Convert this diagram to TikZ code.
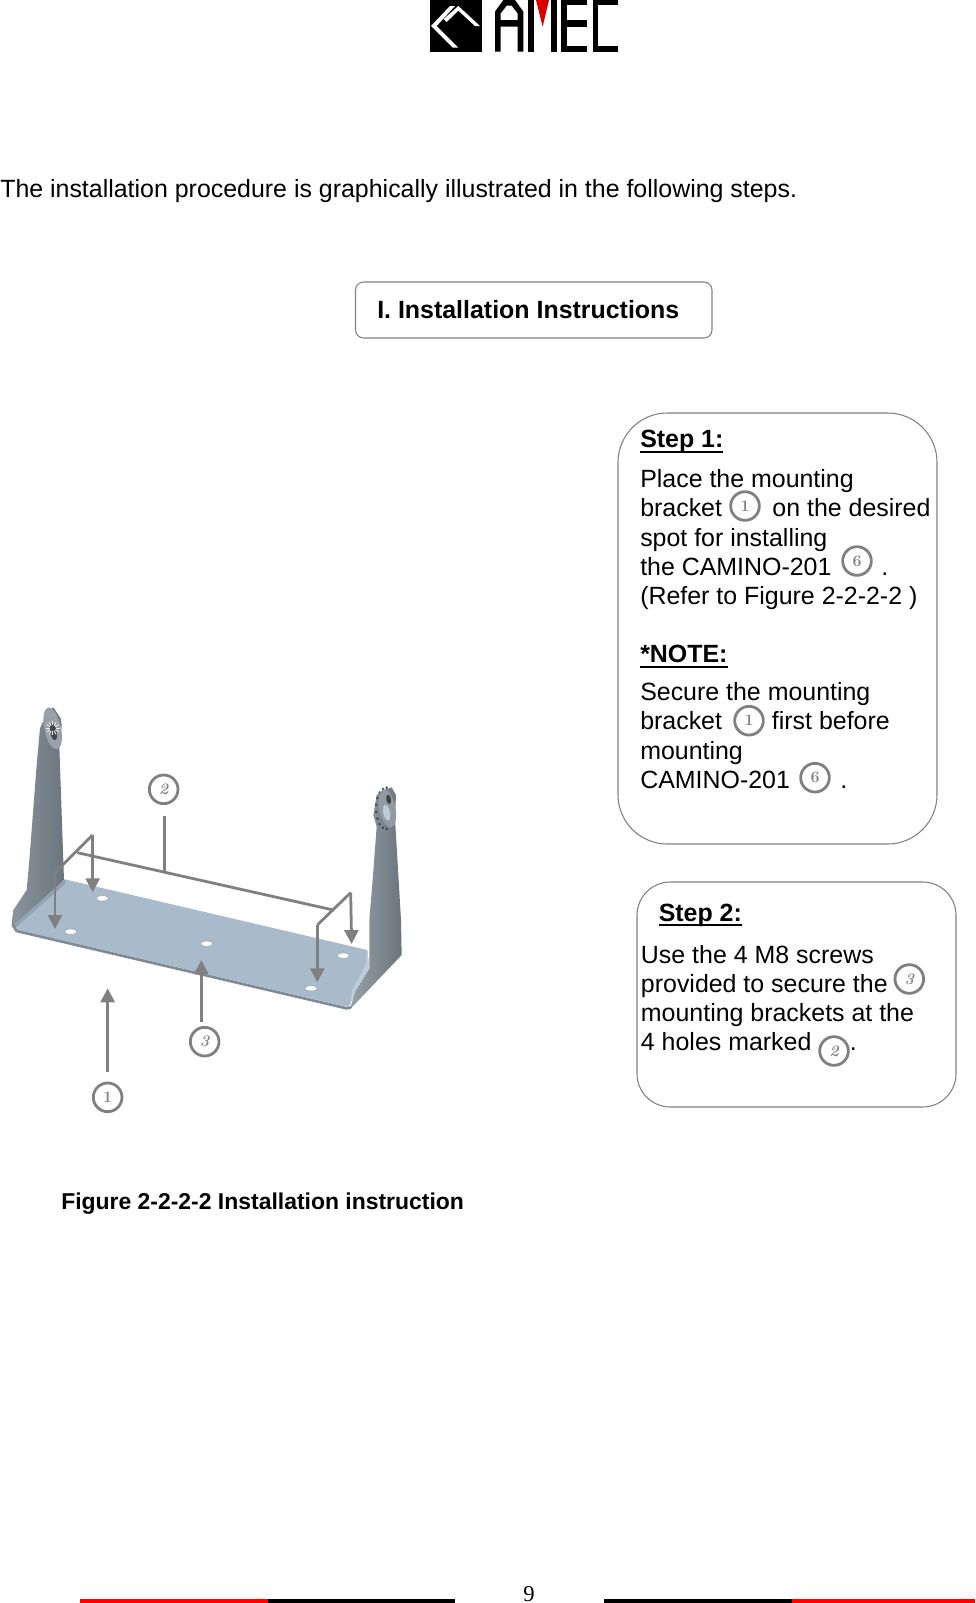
\documentclass[tikz,border=0pt]{standalone}
\usepackage{fontspec}
\setsansfont{Liberation Sans}
\newfontfamily\pagefont{Liberation Serif}
\usepackage{tikz}
\usetikzlibrary{arrows.meta}
\definecolor{numgray}{HTML}{808080}
\definecolor{boxgray}{HTML}{808080}
\definecolor{platecol}{HTML}{A9BBCB}
\definecolor{postcol}{HTML}{76828C}
\definecolor{edgecol}{HTML}{7E8B97}
\newcommand{\ulhead}[1]{\setbox0=\hbox{#1}\rlap{\raisebox{-4.1pt}{\rule{\wd0}{1.6pt}}}\box0}
\tikzset{
	body/.style={anchor=base west,inner sep=0pt,font=\sffamily\fontsize{18.7}{20}\selectfont},
	head/.style={anchor=base west,inner sep=0pt,font=\sffamily\bfseries\fontsize{18.7}{20}\selectfont},
	numcircle/.style={circle,draw=numgray,line width=2.1pt,minimum size=21.5pt,inner sep=0pt,text=numgray,font=\bfseries\fontsize{12}{12}\selectfont},
	stepbox/.style={draw=boxgray,line width=0.8pt},
	arrowline/.style={draw=numgray,line width=2.1pt,-{Triangle[length=10.5pt,width=10.5pt]}},
	plainline/.style={draw=numgray,line width=2.1pt},
	hole/.style={fill=white,draw=platecol!60!postcol,line width=0.4pt}
}
\begin{document}
\begin{tikzpicture}[x=0.75pt,y=-0.75pt]
	\useasboundingbox (0,0) rectangle (975,1603);
	
	%LOGO
	\begin{scope}[shift={(400,0)},scale=1/3]
		\fill (90,0) rectangle (245,155);
		\fill[white] (93,78) -- (150,18) -- (165,18) -- (110,78) -- (175,143) -- (158,143) -- cycle;
		\fill[white] (175,18) -- (240,78) -- (225,78) -- (175,32) -- (140,66) -- (131,57) -- cycle;
		\fill[even odd rule] (285,155) -- (302,155) -- (302,80) -- (353,80) -- (353,155) -- (370,155) -- (370,35) -- (345,0) -- (310,0) -- (285,35) -- cycle
			(302,60) -- (353,60) -- (353,40) -- (335,17) -- (320,17) -- (302,40) -- cycle;
		\fill (385,0) rectangle (402,155);
		\fill (452,0) rectangle (470,155);
		\fill[red!85!black] (408,0) -- (447,0) -- (428,80) -- cycle;
		\fill (484,0) rectangle (500,155);
		\fill (484,0) rectangle (560,15);
		\fill (484,60) rectangle (560,80);
		\fill (484,137) rectangle (560,155);
		\fill (578,0) rectangle (595,155);
		\fill (578,0) rectangle (654,15);
		\fill (578,137) rectangle (654,155);
	\end{scope}
	
	%TITOLI
	\node[body] (intro) at (0,197) {The installation procedure is graphically illustrated in the following steps.};
	\draw[stepbox,rounded corners=6pt] (355.5,282) rectangle (712,338);
	\node[head] (title) at (377,318) {I. Installation Instructions};
	\node[head,font=\sffamily\bfseries\fontsize{17.2}{20}\selectfont] (caption) at (61,1209) {Figure 2-2-2-2 Installation instruction};
	
	%STAFFA
	\begin{scope}[shift={(0,680)},scale=1/3]
		%montanti
		\path[left color=postcol!85!white,right color=postcol!90!black] (160,82) -- (182,115) -- (185,135) -- (178,200) -- (192,600) -- (45,745) -- (35,730) -- (40,690) -- (80,630) -- (88,540) -- (95,450) -- (110,255) -- (120,145) -- (140,100) -- cycle;
		\path[left color=postcol!75!white,right color=postcol!90!black] (1175,322) -- (1188,345) -- (1185,415) -- (1203,720) -- (1205,825) -- (1050,988) -- (1065,935) -- (1108,865) -- (1108,720) -- (1118,600) -- (1130,440) -- (1120,405) -- (1130,345) -- (1150,330) -- cycle;
		%piede
		\fill[platecol] (195,598) -- (1102,810) -- (1108,865) -- (1065,935) -- (1050,975) -- (1040,980) -- (55,750) -- (42,735) -- cycle;
		\fill[platecol!55!postcol] (195,598) -- (42,735) -- (48,742) -- (197,610) -- cycle;
		\fill[platecol!75!white] (1102,810) -- (1108,865) -- (1065,935) -- (1050,975) -- (1056,930) -- (1095,860) -- cycle;
		%bordo
		\draw[edgecol,line width=2pt,line cap=round] (38,735) -- (50,753) -- (1040,985) -- (1052,982);
		%ghiere
		\fill[postcol!75!white] (158,145) ellipse [x radius=25,y radius=64,rotate=12];
		\fill[postcol!55!black] (160,155) ellipse [x radius=10,y radius=26,rotate=12];
		\foreach \ang in {0,30,...,330}
			\draw[white!85!postcol,line width=0.7pt] (158,145) ++(\ang:9) -- ++(\ang:12);
		\foreach \ang in {90,110,...,270}
			\fill[postcol!50!black] (1160,385) ++(\ang:32 and 62) circle (4);
		\fill[postcol!80!white] (1162,385) ellipse [x radius=24,y radius=58,rotate=12];
		\fill[postcol!50!black] (1166,358) ellipse [x radius=7,y radius=14,rotate=12];
		\fill[platecol!75!white] (1160,398) ellipse [x radius=10,y radius=24,rotate=12];
		%fori
		\draw[hole] (307,655) ellipse (19 and 8);
		\draw[hole] (212,755) ellipse (19 and 8);
		\draw[hole] (620,791) ellipse (19 and 8);
		\draw[hole] (1030,827) ellipse (19 and 8);
		\draw[hole] (933,925) ellipse (19 and 8);
		
		%frecce
		\coordinate (arrowAa) at (323,1175);
		\coordinate (arrowAb) at (323,925);
		\coordinate (arrowCa) at (604,1025);
		\coordinate (arrowCb) at (604,840);
		\coordinate (arrowBa) at (493,408);
		\coordinate (arrowBb) at (493,575);
		\coordinate (spanL) at (232,518);
		\coordinate (spanR) at (1000,690);
		\coordinate (forkLa) at (278,465);
		\coordinate (forkLb) at (165,578);
		\coordinate (tipLa) at (278,637);
		\coordinate (tipLb) at (165,747);
		\coordinate (forkRa) at (1052,638);
		\coordinate (forkRb) at (952,735);
		\coordinate (tipRa) at (1055,792);
		\coordinate (tipRb) at (952,907);
		\draw[arrowline] (arrowAa) -- (arrowAb);
		\draw[arrowline] (arrowCa) -- (arrowCb);
		\draw[plainline] (arrowBa) -- (arrowBb);
		\draw[plainline] (spanL) -- (spanR);
		\draw[plainline] (forkLb) -- (forkLa);
		\draw[arrowline] (forkLa) -- (tipLa);
		\draw[arrowline] (forkLb) -- (tipLb);
		\draw[plainline] (forkRb) -- (forkRa);
		\draw[arrowline] (forkRa) -- (tipRa);
		\draw[arrowline] (forkRb) -- (tipRb);
		\node[numcircle] (numA) at (323,1252) {1};
		\node[numcircle] (numB) at (491,328) {\itshape 2};
		\node[numcircle] (numC) at (614,1085) {\itshape 3};
	\end{scope}
	
	%STEP 1
	\draw[stepbox,rounded corners=37pt] (618,413) rectangle (937,844);
	\node[head] (sA) at (640,447.7) {\ulhead{Step 1:}};
	\node[body] (sAa) at (640,487.7) {Place the mounting};
	\node[body] (sAb) at (640,516.7) {bracket};
	\node[numcircle] (nAb) at (745,506) {1};
	\node[body] (sAbb) at (772.2,516.7) {on the desired};
	\node[body] (sAc) at (640,546.7) {spot for installing};
	\node[body] (sAd) at (640,575.3) {the CAMINO-201};
	\node[numcircle] (nAd) at (857,561) {6};
	\node[body] (sAdd) at (881,575.3) {.};
	\node[body] (sAe) at (640,604.3) {(Refer to Figure 2-2-2-2 )};
	\node[head] (sN) at (640,662.7) {\ulhead{*NOTE:}};
	\node[body] (sNa) at (640,700.5) {Secure the mounting};
	\node[body] (sNb) at (640,729.5) {bracket};
	\node[numcircle] (nNb) at (749,720.7) {1};
	\node[body] (sNbb) at (771.7,729.5) {first before};
	\node[body] (sNc) at (640,759.3) {mounting};
	\node[body] (sNd) at (640,788) {CAMINO-201};
	\node[numcircle] (nNd) at (815,777.7) {6};
	\node[body] (sNdd) at (840,788) {.};
	
	%STEP 2
	\draw[stepbox,rounded corners=25pt] (637,882) rectangle (956,1107);
	\node[head] (sB) at (658.5,921) {\ulhead{Step 2:}};
	\node[body] (sBa) at (640.7,963.2) {Use the 4 M8 screws};
	\node[body] (sBb) at (640.7,992) {provided to secure the};
	\node[numcircle] (nBb) at (909.3,979) {\itshape 3};
	\node[body] (sBc) at (640.7,1021.2) {mounting brackets at the};
	\node[body] (sBd) at (640.7,1050) {4 holes marked};
	\node[numcircle] (nBd) at (834,1051) {\itshape 2};
	\node[body] (sBdd) at (849.5,1050) {.};
	
	%PIE DI PAGINA
	\node[anchor=base,inner sep=0pt,font=\pagefont\fontsize{17}{17}\selectfont] (pagenum) at (529,1601) {9};
	\fill[red] (80,1598.5) rectangle (268,1602.5);
	\fill[black] (268,1598.5) rectangle (455,1602.5);
	\fill[black] (604,1598.5) rectangle (792,1602.5);
	\fill[red] (792,1598.5) rectangle (975,1602.5);
\end{tikzpicture}
\end{document}
